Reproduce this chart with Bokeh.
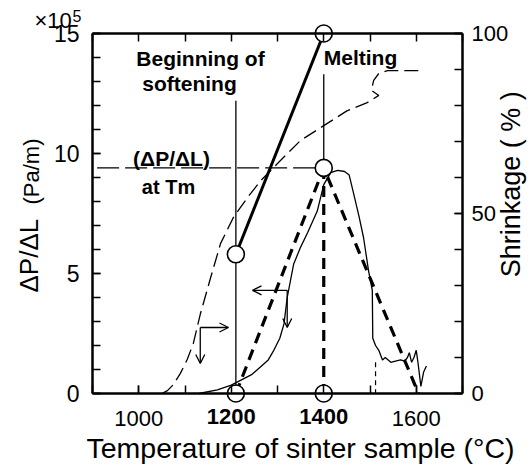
import math
from bokeh.plotting import figure
from bokeh.models import (LinearAxis, Range1d, FixedTicker, Label, Arrow,
                          OpenHead, ColumnDataSource)
from bokeh.embed import file_html
from bokeh.resources import INLINE

FONT = "Liberation Sans"

# ---------------- data ----------------
x_major = [1000, 1600]
x_minor = [900, 1000, 1100, 1200, 1300, 1400, 1500, 1600, 1700]
bold_ticks = [1200, 1400]
bold_tick_labels = ["1200", "1400"]
y_major = [0, 5, 10, 15]
y_minor = [0, 1, 2, 3, 4, 5, 6, 7, 8, 9, 10, 11, 12, 13, 14, 15]
shr_major = [0, 50, 100]
shr_minor = [0, 10, 20, 30, 40, 50, 60, 70, 80, 90, 100]

x_title = "Temperature of sinter sample (°C)"
y_title_main = "ΔP/ΔL"
y_title_unit = "(Pa/m)"
y2_title = "Shrinkage  ( % )"

# measured pressure drop gradient dP/dL (x10^5 Pa/m)
dp_x = [1130, 1170, 1200, 1220, 1245, 1263, 1280, 1292, 1305, 1314, 1321, 1335,
        1350, 1365, 1386, 1400, 1415, 1430, 1445, 1455, 1465, 1476, 1486, 1497,
        1505, 1506, 1512, 1519, 1527, 1533, 1545, 1555, 1566, 1575, 1581, 1585,
        1590, 1595, 1600, 1604, 1610, 1616, 1622]
dp_y = [0, 0.15, 0.35, 0.55, 0.8, 1.1, 1.4, 1.8, 2.3, 2.9, 4.0, 5.4,
        6.1, 6.7, 7.6, 8.7, 9.2, 9.3, 9.25, 9.1, 8.3, 7.4, 6.5, 5.1,
        4.3, 2.3, 2.0, 1.8, 1.4, 1.5, 1.3, 1.35, 1.4, 1.35, 1.5, 1.7,
        1.3, 1.5, 1.8, 1.25, 0.3, 0.9, 1.15]

# shrinkage (%)
shr_x = [1050, 1062, 1075, 1090, 1105, 1118, 1133, 1155, 1177, 1205, 1235, 1263,
         1300, 1328, 1350, 1400, 1450, 1494, 1519, 1503, 1508, 1519, 1538, 1616]
shr_y = [0, 0.8, 2.5, 5.6, 9.5, 13.9, 22, 32, 41.7, 49, 54.4, 59,
         63.9, 67.5, 70.3, 74.4, 78.5, 80.8, 82.8, 84.2, 87, 88.9, 89.7, 89.7]

# idealised triangle (thick dashed)
tri_x = [1210, 1400, 1605]
tri_y = [0, 9.4, 0]
drop_x = [1400, 1400]
drop_y = [9.4, 0]

# softening -> melting line (thick solid)
sm_x = [1210, 1400]
sm_y = [5.8, 15]

# (dP/dL) at Tm guide
tm_x = [910, 1400]
tm_y = [9.4, 9.4]

# vertical markers
soft_vx = [1210, 1210]
soft_vy = [0, 12.2]
melt_vx = [1400, 1400]
melt_vy = [9.4, 13.3]

# small dashed drop near 1510
tick_vx = [1512, 1512]
tick_vy = [1.3, 0]

# open circle points
pts_x = [1210, 1210, 1400, 1400, 1400]
pts_y = [0, 5.8, 0, 9.4, 15]

# arrows
arr_x0 = [1133, 1133, 1321, 1321]
arr_y0 = [2.75, 2.75, 4.3, 4.3]
arr_x1 = [1194, 1133, 1246, 1321]
arr_y1 = [2.75, 1.25, 4.3, 2.75]

# ---------------- layout: frame covers whole canvas ----------------
W, H = 531, 466
FL, FR, FT, FB = 92, 462, 33, 393          # pixel box of the data axes
XMIN, XMAX, YMIN, YMAX = 900, 1700, 0, 15
SMIN, SMAX = 0, 100
kx = (FR - FL) / (XMAX - XMIN)
ky = (FB - FT) / (YMAX - YMIN)
x0 = XMIN - FL / kx
x1 = x0 + W / kx
y1 = YMAX + FT / ky
y0 = y1 - H / ky
sf = (SMAX - SMIN) / (YMAX - YMIN)

p = figure(width=W, height=H, x_range=Range1d(x0, x1), y_range=Range1d(y0, y1),
           output_backend="svg", toolbar_location=None,
           min_border=0, min_border_left=0, min_border_right=0,
           min_border_top=0, min_border_bottom=0)
p.extra_y_ranges = {"shr": Range1d(y0 * sf, y1 * sf)}
p.xgrid.visible = False
p.ygrid.visible = False
p.outline_line_color = None
p.background_fill_color = "white"
p.border_fill_color = "white"


def style_axis(ax, fs="22px"):
    ax.axis_line_width = 2.5
    ax.axis_line_color = "black"
    ax.major_tick_in = 8
    ax.major_tick_out = 0
    ax.minor_tick_in = 8
    ax.minor_tick_out = 0
    ax.major_tick_line_width = 1.5
    ax.minor_tick_line_width = 1.5
    ax.major_tick_line_color = "black"
    ax.minor_tick_line_color = "black"
    ax.major_label_text_font = FONT
    ax.major_label_text_font_size = fs
    ax.major_label_text_color = "black"


xa = p.xaxis[0]
style_axis(xa)
xa.fixed_location = YMIN
xa.bounds = (XMIN, XMAX)
xa.ticker = FixedTicker(ticks=x_major, minor_ticks=x_minor)
xa.major_label_standoff = 17

ya = p.yaxis[0]
style_axis(ya, "23px")
ya.fixed_location = XMIN
ya.bounds = (YMIN, YMAX)
ya.ticker = FixedTicker(ticks=y_major, minor_ticks=y_minor)
ya.major_label_standoff = 13

ra = LinearAxis(y_range_name="shr")
style_axis(ra)
ra.fixed_location = XMAX
ra.bounds = (SMIN, SMAX)
ra.ticker = FixedTicker(ticks=shr_major, minor_ticks=shr_minor)
ra.major_label_standoff = 9
p.add_layout(ra, "right")

ta = LinearAxis()
style_axis(ta)
ta.fixed_location = YMAX
ta.bounds = (XMIN, XMAX)
ta.ticker = FixedTicker(ticks=[], minor_ticks=x_minor)
p.add_layout(ta, "above")

# ---------------- curves ----------------
p.line(tm_x, tm_y, line_color="black", line_width=1.2, line_dash="22 6")
p.line(soft_vx, soft_vy, line_color="black", line_width=1.3)
p.line(melt_vx, melt_vy, line_color="black", line_width=1.3)
p.line(shr_x, shr_y, y_range_name="shr", line_color="black", line_width=1.3, line_dash="14 6")
p.line(dp_x, dp_y, line_color="black", line_width=1.3)
p.line(tick_vx, tick_vy, line_color="black", line_width=1.2, line_dash="5 4")
p.line(tri_x, tri_y, line_color="black", line_width=3.2, line_dash="11 7")
p.line(drop_x, drop_y, line_color="black", line_width=3.2, line_dash="11 7")
p.line(sm_x, sm_y, line_color="black", line_width=3)
p.scatter(pts_x, pts_y, size=17, marker="circle", fill_color="white",
          line_color="black", line_width=1.6)

arr_src = ColumnDataSource(dict(x0=arr_x0, y0=arr_y0, x1=arr_x1, y1=arr_y1))
p.add_layout(Arrow(end=OpenHead(size=9, line_width=1.3, line_color="black"),
                   x_start="x0", y_start="y0", x_end="x1", y_end="y1",
                   source=arr_src, line_width=1.3, line_color="black"))


# ---------------- texts ----------------
def px_x(px):
    return x0 + px / kx


def px_y(py):
    return y1 - py / ky


def lab(x, y, t, size, bold=False, align="center", angle=0):
    p.add_layout(Label(x=x, y=y, text=t, text_font=FONT, text_font_size=size,
                       text_font_style="bold" if bold else "normal", angle=angle,
                       text_align=align, text_baseline="middle", text_color="black"))


for t, s in zip(bold_ticks, bold_tick_labels):
    lab(t, px_y(416), s, "22px", bold=True)

# axis titles
lab(px_x(300), px_y(447), x_title, "28.5px")
lab(px_x(28), px_y(292), y_title_main, "26px", align="left", angle=math.pi / 2)
lab(px_x(31), px_y(171), y_title_unit, "22px", angle=math.pi / 2)
lab(px_x(510), px_y(180), y2_title, "27px", angle=math.pi / 2)

# annotations
lab(px_x(200), px_y(58), "Beginning of", "21px", bold=True)
lab(px_x(189), px_y(83), "softening", "21px", bold=True)
lab(1400, px_y(57), "Melting", "21px", bold=True, align="left")
lab(px_x(171), px_y(158), "(ΔP/ΔL)", "21px", bold=True)
lab(px_x(168), px_y(186), "at Tm", "20px", bold=True)
lab(px_x(34), px_y(20), "×10", "22px", align="left")
lab(px_x(72), px_y(15), "5", "16px", align="left")

open("out.html", "w").write(file_html(p, INLINE))
